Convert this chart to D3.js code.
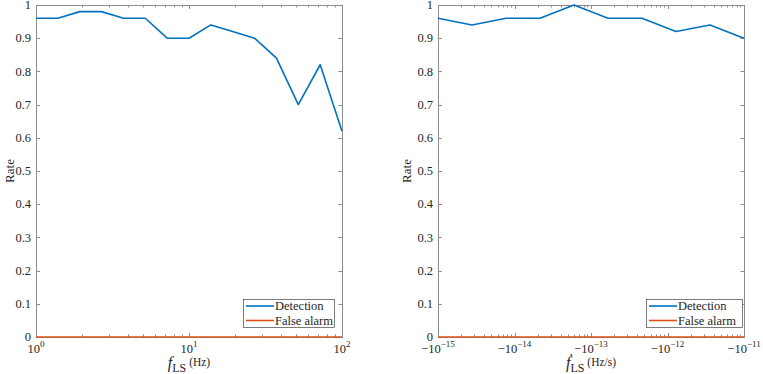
<!DOCTYPE html>
<html><head><meta charset="utf-8">
<script src="https://cdn.jsdelivr.net/npm/d3@7/dist/d3.min.js"></script>
<style>body{margin:0;background:#fff}svg{display:block}svg text{font-family:"Liberation Serif","Times New Roman",serif}</style>
</head><body>
<svg id="c" width="763" height="374"></svg>
<script>
// ---- data ----
const leftX = [1, 1.39, 1.93, 2.68, 3.73, 5.18, 7.20, 10, 13.9, 19.3, 26.8, 37.3, 51.8, 72.0, 100];
const leftDetection = [0.96, 0.96, 0.98, 0.98, 0.96, 0.96, 0.90, 0.90, 0.94, 0.92, 0.90, 0.84, 0.70, 0.82, 0.62];
const leftFalseAlarm = [0, 0, 0, 0, 0, 0, 0, 0, 0, 0, 0, 0, 0, 0, 0];
const rightX = [-1e-15, -2.78e-15, -7.74e-15, -2.15e-14, -5.99e-14, -1.67e-13, -4.64e-13, -1.29e-12, -3.59e-12, -1e-11];
const rightDetection = [0.96, 0.94, 0.96, 0.96, 1.00, 0.96, 0.96, 0.92, 0.94, 0.90];
const rightFalseAlarm = [0, 0, 0, 0, 0, 0, 0, 0, 0, 0];
const yTicks = [0, 0.1, 0.2, 0.3, 0.4, 0.5, 0.6, 0.7, 0.8, 0.9, 1];
const leftXTicks = [1, 10, 100];
const leftXTickExp = ["0", "1", "2"];
const rightXTicks = [-1e-15, -1e-14, -1e-13, -1e-12, -1e-11];
const rightXTickExp = ["\u221215", "\u221214", "\u221213", "\u221212", "\u221211"];
const seriesNames = ["Detection", "False alarm"];
const colors = ["#0072BD", "#D95319"];

const svg = d3.select("#c");
const frameColor = "#8c8c8c";
const textColor = "#262626";

function minorTicks(domainAbsLo, domainAbsHi, sign) {
  const out = [];
  const e0 = Math.round(Math.log10(domainAbsLo)), e1 = Math.round(Math.log10(domainAbsHi));
  for (let e = e0; e < e1; e++) for (let m = 2; m <= 9; m++) out.push(sign * m * Math.pow(10, e));
  return out;
}

function panel(cfg) {
  const g = svg.append("g");
  const x = d3.scaleLog().domain(cfg.xDomain).range([cfg.x0, cfg.x1]);
  const y = d3.scaleLinear().domain([0, 1]).range([cfg.yb, cfg.yt]);

  g.append("rect").attr("x", cfg.x0 + 0.5).attr("y", cfg.yt + 0.5).attr("width", cfg.x1 - cfg.x0)
    .attr("height", cfg.yb - cfg.yt).attr("fill", "none").attr("stroke", frameColor).attr("stroke-width", 1);

  yTicks.forEach(t => {
    const yy = Math.round(y(t)) + 0.5;
    g.append("line").attr("x1", cfg.x0).attr("x2", cfg.x0 + 4).attr("y1", yy).attr("y2", yy).attr("stroke", frameColor);
    g.append("line").attr("x1", cfg.x1 - 3.5).attr("x2", cfg.x1 + 0.5).attr("y1", yy).attr("y2", yy).attr("stroke", frameColor);
    g.append("text").attr("x", cfg.x0 - 5).attr("y", y(t) + 4.2).attr("text-anchor", "end")
      .attr("font-size", 12.5).attr("fill", textColor).text(d3.format("")(t));
  });

  cfg.xTicks.forEach((t, i) => {
    const xx = Math.round(x(t)) + 0.5;
    g.append("line").attr("x1", xx).attr("x2", xx).attr("y1", cfg.yb).attr("y2", cfg.yb - 4).attr("stroke", frameColor);
    g.append("line").attr("x1", xx).attr("x2", xx).attr("y1", cfg.yt).attr("y2", cfg.yt + 4).attr("stroke", frameColor);
    const tx = g.append("text").attr("x", x(t)).attr("y", 352.5).attr("text-anchor", "middle")
      .attr("font-size", 12.5).attr("fill", textColor);
    tx.append("tspan").text(cfg.tickBase);
    tx.append("tspan").attr("dy", -6).attr("font-size", 9).text(cfg.tickExp[i]);
  });
  cfg.minors.forEach(t => {
    const xx = Math.round(x(t)) + 0.5;
    g.append("line").attr("x1", xx).attr("x2", xx).attr("y1", cfg.yb).attr("y2", cfg.yb - 2.5).attr("stroke", frameColor);
    g.append("line").attr("x1", xx).attr("x2", xx).attr("y1", cfg.yt).attr("y2", cfg.yt + 2.5).attr("stroke", frameColor);
  });

  const line = d3.line().x(d => x(d[0])).y(d => y(d[1]));
  [cfg.det, cfg.fa].forEach((s, k) => {
    g.append("path").datum(cfg.xs.map((v, i) => [v, s[i]]))
      .attr("d", line).attr("fill", "none").attr("stroke", colors[k]).attr("stroke-width", 1.6)
      .attr("stroke-linejoin", "round");
  });

  g.append("text").attr("transform", `translate(${cfg.ylabX},${(cfg.yt + cfg.yb) / 2}) rotate(-90)`)
    .attr("text-anchor", "middle").attr("font-size", 13).attr("fill", textColor).text("Rate");

  const xl = g.append("text").attr("x", (cfg.x0 + cfg.x1) / 2).attr("y", 368).attr("text-anchor", "middle").attr("fill", textColor);
  xl.append("tspan").attr("font-style", "italic").attr("font-size", 16).text(cfg.xlabSym);
  xl.append("tspan").attr("font-size", 12).attr("dy", 3.5).text("LS");
  xl.append("tspan").attr("font-size", 11.5).attr("dy", -6).text("\u00a0" + cfg.xlabUnit);

  const L = cfg.legend;
  g.append("rect").attr("x", L.x + 0.5).attr("y", L.y + 0.5).attr("width", L.w).attr("height", 28)
    .attr("fill", "#fff").attr("stroke", "#262626").attr("stroke-width", 0.6);
  seriesNames.forEach((n, k) => {
    const yy = L.y + 7 + k * 14.5;
    g.append("line").attr("x1", L.x + 3).attr("x2", L.x + 31).attr("y1", yy).attr("y2", yy)
      .attr("stroke", colors[k]).attr("stroke-width", 1.6);
    g.append("text").attr("x", L.x + 32).attr("y", yy + 4).attr("font-size", 12.5).attr("fill", textColor).text(n);
  });
}

panel({
  x0: 36, x1: 342, yt: 5, yb: 337,
  xDomain: [1, 100], xs: leftX, det: leftDetection, fa: leftFalseAlarm,
  xTicks: leftXTicks, tickBase: "10", tickExp: leftXTickExp,
  minors: minorTicks(1, 100, 1),
  xlabSym: "f", xlabUnit: "(Hz)", ylabX: 14,
  legend: {x: 243, y: 299, w: 91}
});
panel({
  x0: 438, x1: 744, yt: 5, yb: 337,
  xDomain: [-1e-15, -1e-11], xs: rightX, det: rightDetection, fa: rightFalseAlarm,
  xTicks: rightXTicks, tickBase: "\u221210", tickExp: rightXTickExp,
  minors: minorTicks(1e-15, 1e-11, -1),
  xlabSym: "\u1e1f", xlabUnit: "(Hz/s)", ylabX: 411,
  legend: {x: 646, y: 299, w: 96}
});
</script>
</body></html>
